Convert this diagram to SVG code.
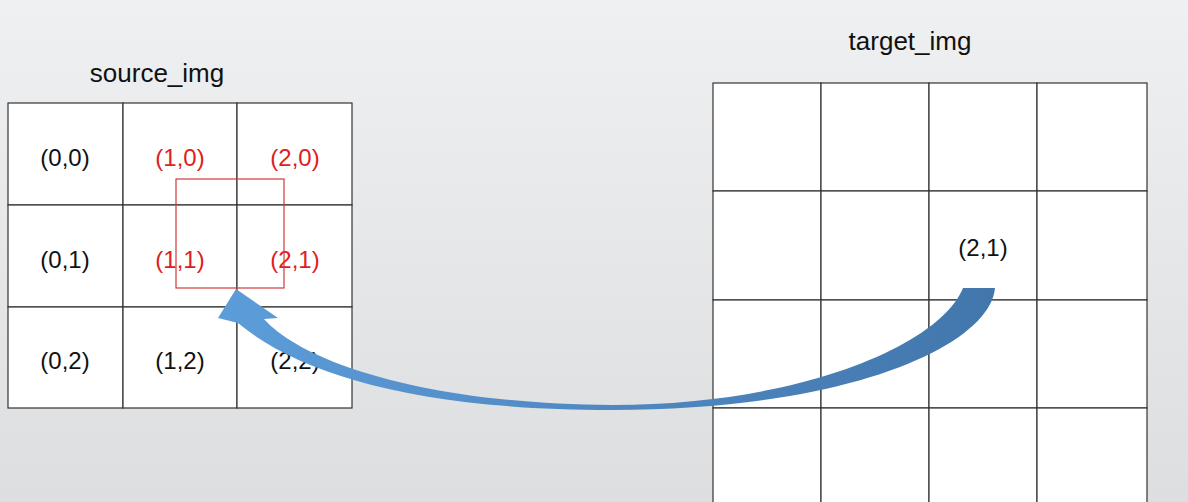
<svg xmlns="http://www.w3.org/2000/svg" width="1188" height="502" viewBox="0 0 1188 502">
<defs>
<linearGradient id="bg" x1="0" y1="0" x2="0" y2="1">
<stop offset="0" stop-color="#eff0f2"/>
<stop offset="1" stop-color="#dcdee0"/>
</linearGradient>
<linearGradient id="arr" x1="0" y1="0" x2="1" y2="0">
<stop offset="0" stop-color="#5c9dd9"/>
<stop offset="0.5" stop-color="#4f88c2"/>
<stop offset="1" stop-color="#4277ac"/>
</linearGradient>
<style>
.cell{fill:#ffffff;stroke:#333333;stroke-width:1.2}
.t{font-family:"Liberation Sans",Arial,sans-serif;font-size:24px;text-anchor:middle;fill:#111111}
.r{fill:#e02020}
.title{font-family:"Liberation Sans",Arial,sans-serif;font-size:26px;text-anchor:middle;fill:#111111}
</style>
</defs>
<rect width="1188" height="502" fill="url(#bg)"/>
<g id="source">
<text class="title" x="157" y="82">source_img</text>
<rect class="cell" x="8" y="103" width="115" height="102"/>
<rect class="cell" x="123" y="103" width="114" height="102"/>
<rect class="cell" x="237" y="103" width="115" height="102"/>
<rect class="cell" x="8" y="205" width="115" height="102"/>
<rect class="cell" x="123" y="205" width="114" height="102"/>
<rect class="cell" x="237" y="205" width="115" height="102"/>
<rect class="cell" x="8" y="307" width="115" height="101"/>
<rect class="cell" x="123" y="307" width="114" height="101"/>
<rect class="cell" x="237" y="307" width="115" height="101"/>
<text class="t" x="65" y="166">(0,0)</text>
<text class="t r" x="180" y="166">(1,0)</text>
<text class="t r" x="295" y="166">(2,0)</text>
<text class="t" x="65" y="268">(0,1)</text>
<text class="t r" x="180" y="268">(1,1)</text>
<text class="t r" x="295" y="268">(2,1)</text>
<text class="t" x="65" y="369">(0,2)</text>
<text class="t" x="180" y="369">(1,2)</text>
<text class="t" x="295" y="369">(2,2)</text>
<rect x="176" y="179" width="108" height="109" fill="none" stroke="#d03a3a" stroke-width="1.2"/>
</g>
<g id="target">
<text class="title" x="910" y="50">target_img</text>
<g>
<rect class="cell" x="713" y="83" width="108" height="108"/>
<rect class="cell" x="821" y="83" width="108" height="108"/>
<rect class="cell" x="929" y="83" width="108" height="108"/>
<rect class="cell" x="1037" y="83" width="110" height="108"/>
<rect class="cell" x="713" y="191" width="108" height="109"/>
<rect class="cell" x="821" y="191" width="108" height="109"/>
<rect class="cell" x="929" y="191" width="108" height="109"/>
<rect class="cell" x="1037" y="191" width="110" height="109"/>
<rect class="cell" x="713" y="300" width="108" height="108"/>
<rect class="cell" x="821" y="300" width="108" height="108"/>
<rect class="cell" x="929" y="300" width="108" height="108"/>
<rect class="cell" x="1037" y="300" width="110" height="108"/>
<rect class="cell" x="713" y="408" width="108" height="110"/>
<rect class="cell" x="821" y="408" width="108" height="110"/>
<rect class="cell" x="929" y="408" width="108" height="110"/>
<rect class="cell" x="1037" y="408" width="110" height="110"/>
</g>
<text class="t" x="983" y="256">(2,1)</text>
</g>
<g id="connectors">
<path d="M236,289 L278,318 L264,319 C300,360 420,404 612,405 C800,405 940,345 963,288 L995,288 C990,345 850,410 612,410 C420,410 300,375 238,323 L218,318 Z" fill="url(#arr)"/>
</g>
</svg>
